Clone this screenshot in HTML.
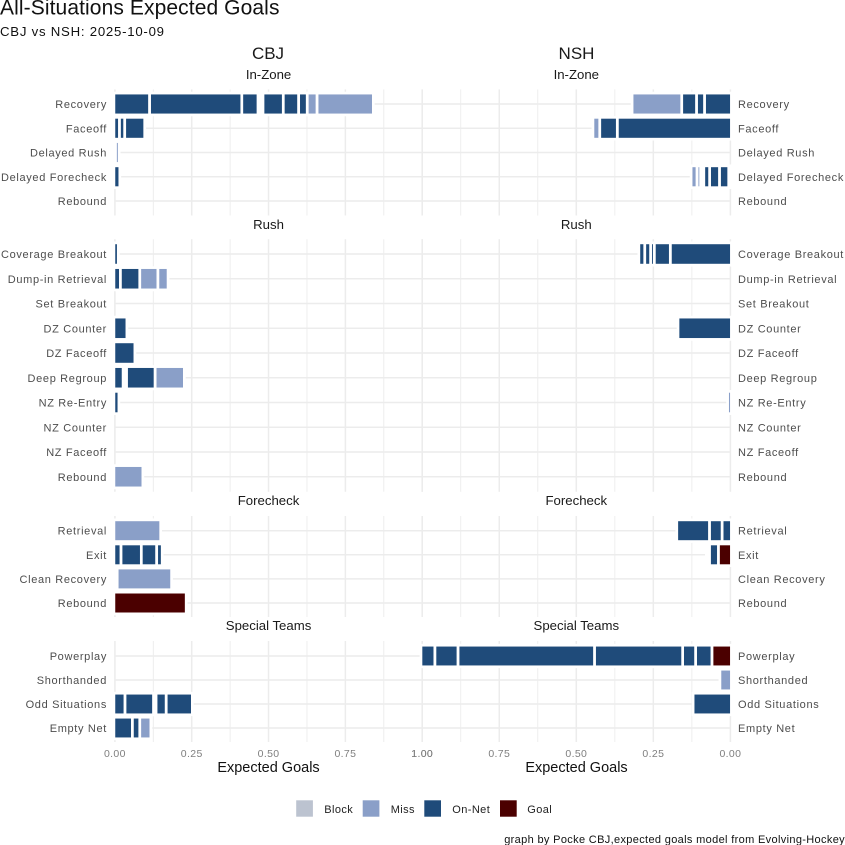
<!DOCTYPE html>
<html lang="en">
<head>
<meta charset="utf-8">
<title>All-Situations Expected Goals</title>
<style>
html,body{margin:0;padding:0;background:#fff;width:845px;height:845px;overflow:hidden}
svg{display:block;font-family:"Liberation Sans",sans-serif}
.cat{font-size:11px;fill:#4d4d4d;letter-spacing:.66px}
.tick{font-size:10.5px;fill:#7f7f7f;letter-spacing:.35px}
.strip{font-size:13.2px;fill:#1a1a1a}
.team{font-size:17px;fill:#1a1a1a}
.axt{font-size:14.5px;fill:#111}
.leg{font-size:11px;fill:#222;letter-spacing:.4px}
</style>
</head>
<body>
<svg id="chart" width="845" height="845" viewBox="0 0 845 845" xmlns="http://www.w3.org/2000/svg">
  <rect x="0" y="0" width="845" height="845" fill="#ffffff"/>
  <text x="0" y="14.3" font-size="21" letter-spacing=".1" fill="#111">All-Situations Expected Goals</text>
  <text x="0" y="36" font-size="13.2" letter-spacing=".76" fill="#111">CBJ vs NSH: 2025-10-09</text>
  <text class="team" x="268" y="59" text-anchor="middle">CBJ</text>
  <text class="team" x="576.5" y="59" text-anchor="middle">NSH</text>
  <g id="panels"></g>
  <text class="axt" x="268.5" y="772" text-anchor="middle">Expected Goals</text>
  <text class="axt" x="576.5" y="772" text-anchor="middle">Expected Goals</text>
  <g id="legend"></g>
  <text x="845" y="843" text-anchor="end" font-size="11" letter-spacing=".34" fill="#111">graph by Pocke CBJ,expected goals model from Evolving-Hockey</text>
</svg>
<script>
// ---- categories ----
const inZoneCategories = ['Recovery','Faceoff','Delayed Rush','Delayed Forecheck','Rebound'];
const rushCategories = ['Coverage Breakout','Dump-in Retrieval','Set Breakout','DZ Counter','DZ Faceoff','Deep Regroup','NZ Re-Entry','NZ Counter','NZ Faceoff','Rebound'];
const forecheckCategories = ['Retrieval','Exit','Clean Recovery','Rebound'];
const specialCategories = ['Powerplay','Shorthanded','Odd Situations','Empty Net'];

// ---- axis ticks ----
const xTicks = [0, 0.25, 0.5, 0.75, 1];
const xTickLabels = ['0.00','0.25','0.50','0.75','1.00'];
const xMinorTicks = [0.125, 0.375, 0.625, 0.875];

// ---- legend ----
const legendLabels = ['Block','Miss','On-Net','Goal'];

// ---- series: each row is a list of stacked shots [outcome, expected goals]
// outcome: O = On-Net, M = Miss, G = Goal, B = Block, X = no visible fill
const cbjInZone = [
  [['O',.113],['O',.300],['O',.053],['X',.016],['O',.066],['O',.050],['O',.028],['M',.032],['M',.183]],
  [['O',.015],['O',.017],['O',.065]],
  [['X',.002],['M',.012]],
  [['O',.016]],
  []
];
const cbjRush = [
  [['O',.011]],
  [['O',.018],['O',.063],['M',.059],['M',.033]],
  [],
  [['O',.039]],
  [['O',.065]],
  [['O',.027],['X',.011],['O',.093],['M',.095]],
  [['O',.013]],
  [],
  [],
  [['M',.091]]
];
const cbjForecheck = [
  [['M',.149]],
  [['O',.020],['O',.066],['O',.050],['O',.018]],
  [['X',.0075],['M',.177]],
  [['G',.232]]
];
const cbjSpecial = [
  [],
  [],
  [['O',.033],['O',.093],['X',.008],['O',.033],['O',.085]],
  [['O',.057],['O',.024],['M',.036]]
];
const nshInZone = [
  [['O',.084],['O',.026],['O',.048],['M',.161]],
  [['O',.367],['O',.057],['M',.022]],
  [],
  [['X',.0055],['O',.030],['O',.032],['O',.019],['X',.010],['M',.012],['M',.019]],
  []
];
const nshRush = [
  [['O',.195],['O',.052],['O',.012],['O',.019],['O',.019]],
  [],
  [],
  [['O',.170]],
  [],
  [],
  [['M',.009]],
  [],
  [],
  []
];
const nshForecheck = [
  [['O',.027],['O',.041],['O',.106]],
  [['G',.039],['O',.029],['X',.010]],
  [],
  []
];
const nshSpecial = [
  [['G',.060],['O',.053],['O',.042],['O',.286],['O',.443],['O',.075],['O',.045]],
  [['M',.034]],
  [['O',.121]],
  []
];

// ---- styling and layout ----
const outcomeColor = {O:'#1f4b7a', M:'#8a9fc8', G:'#4b0000', B:'#bcc3d0', X:'#ffffff'};
const outcomeName = {O:'on-net', M:'miss', G:'goal', B:'block', X:'spacer'};
const legendColors = ['#bcc3d0','#8a9fc8','#1f4b7a','#4b0000'];
const legendKeyX = [296.2, 362.7, 424.3, 500];
const legendTextX = [324.3, 390.7, 452.3, 527.3];
const gridColor = '#ececec';
const barStroke = 2.7;
const baseOverdraw = 1;

function xCbj(v){ return 114.9 + 307.3 * v; }
function xNsh(v){ return 730.4 - 308.2 * v; }
function yRow(layout, i){ return layout.first + layout.step * i; }

const SVGNS = 'http://www.w3.org/2000/svg';
const panelsGroup = document.getElementById('panels');
const legendGroup = document.getElementById('legend');

function slug(s){ return s.toLowerCase().replace(/[^a-z0-9]+/g,'-'); }

function addLine(parent, x1, y1, x2, y2, w, name){
  const l = document.createElementNS(SVGNS,'line');
  l.setAttribute('x1',x1); l.setAttribute('y1',y1);
  l.setAttribute('x2',x2); l.setAttribute('y2',y2);
  l.setAttribute('stroke',gridColor);
  l.setAttribute('stroke-width',w);
  
  
  parent.appendChild(l);
}
function addText(parent, x, y, str, cls, anchor, name){
  const t = document.createElementNS(SVGNS,'text');
  t.setAttribute('x',x); t.setAttribute('y',y);
  t.setAttribute('class',cls);
  t.setAttribute('text-anchor',anchor);
  t.textContent = str;
  
  
  parent.appendChild(t);
}

function drawPanel(side, title, cats, rows, layout, showAxis){
  const isCbj = side === 'cbj';
  const x = isCbj ? xCbj : xNsh;
  const g = document.createElementNS(SVGNS,'g');
  
  
  panelsGroup.appendChild(g);

  addText(g, x(0.5), layout.stripY, title, 'strip', 'middle', side + '-' + slug(title) + '-strip-label');

  xMinorTicks.forEach(function(v){
    addLine(g, x(v), layout.top, x(v), layout.bottom, 0.9, 'minor-gridline');
  });
  xTicks.forEach(function(v){
    addLine(g, x(v), layout.top, x(v), layout.bottom, 1.5, 'major-gridline');
  });
  cats.forEach(function(c,i){
    const y = yRow(layout,i);
    addLine(g, x(0), y, x(1), y, 1.5, slug(c) + '-gridline');
    addText(g, isCbj ? 107 : 738, y + 4, c, 'cat', isCbj ? 'end' : 'start', slug(c) + '-axis-label');
  });

  rows.forEach(function(row,i){
    const y = yRow(layout,i);
    const h = layout.step * 0.9;
    let cum = 0;
    row.forEach(function(seg,k){
      const a = x(cum), b = x(cum + seg[1]);
      cum += seg[1];
      let left = Math.min(a,b), right = Math.max(a,b);
      if (k === 0) { if (isCbj) left -= baseOverdraw; else right += baseOverdraw; }
      const r = document.createElementNS(SVGNS,'rect');
      r.setAttribute('x',left);
      r.setAttribute('y',y - h/2);
      r.setAttribute('width',right - left);
      r.setAttribute('height',h);
      r.setAttribute('fill',outcomeColor[seg[0]]);
      r.setAttribute('stroke','#ffffff');
      r.setAttribute('stroke-width',barStroke);
      
      
      g.appendChild(r);
    });
  });

  if (showAxis) {
    xTicks.forEach(function(v,i){
      addText(g, x(v), 757, xTickLabels[i], 'tick', 'middle', side + '-x-tick-label');
    });
  }
}

const inZoneLayout = {first:104, step:24.25, top:89.4, bottom:215.5, stripY:79};
const rushLayout = {first:254, step:24.75, top:239.2, bottom:491.8, stripY:229};
const forecheckLayout = {first:530.7, step:24.1, top:516, bottom:617, stripY:505};
const specialLayout = {first:656, step:24, top:641, bottom:742, stripY:630};

drawPanel('cbj','In-Zone',inZoneCategories,cbjInZone,inZoneLayout,false);
drawPanel('nsh','In-Zone',inZoneCategories,nshInZone,inZoneLayout,false);
drawPanel('cbj','Rush',rushCategories,cbjRush,rushLayout,false);
drawPanel('nsh','Rush',rushCategories,nshRush,rushLayout,false);
drawPanel('cbj','Forecheck',forecheckCategories,cbjForecheck,forecheckLayout,false);
drawPanel('nsh','Forecheck',forecheckCategories,nshForecheck,forecheckLayout,false);
drawPanel('cbj','Special Teams',specialCategories,cbjSpecial,specialLayout,true);
drawPanel('nsh','Special Teams',specialCategories,nshSpecial,specialLayout,true);

legendLabels.forEach(function(lab,i){
  const k = document.createElementNS(SVGNS,'rect');
  k.setAttribute('x',legendKeyX[i]);
  k.setAttribute('y',800.3);
  k.setAttribute('width',16.7);
  k.setAttribute('height',16.4);
  k.setAttribute('fill',legendColors[i]);
  
  
  legendGroup.appendChild(k);
  addText(legendGroup, legendTextX[i], 813, lab, 'leg', 'start', 'legend-label-' + slug(lab));
});
</script>
</body>
</html>
